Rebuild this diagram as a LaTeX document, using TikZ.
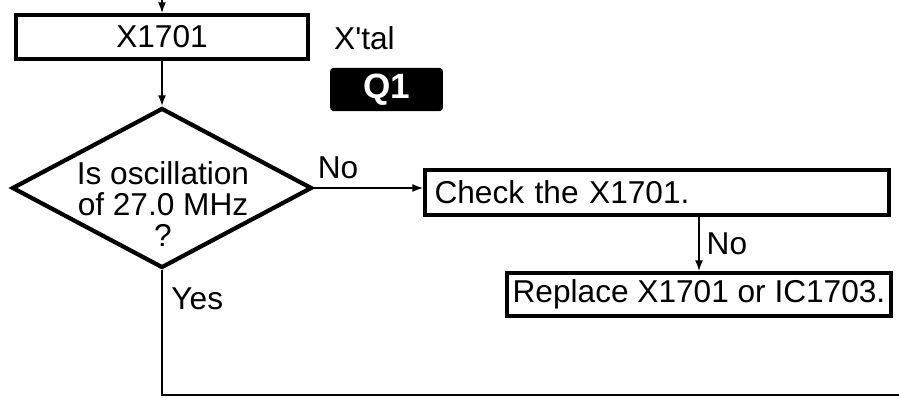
\documentclass[tikz,border=0pt]{standalone}
\usepackage{fontspec}
\setmainfont{Liberation Sans}
\usepackage{tikz}
\usetikzlibrary{arrows.meta,shapes.geometric}

\begin{document}
\begin{tikzpicture}[x=0.02cm,y=-0.02cm,>={Latex[length=6pt,width=4.5pt]},
every node/.style={font=\fontsize{18}{17.6}\selectfont},
box/.style={draw,line width=2.3pt,minimum height=0.88cm,inner sep=0pt},
decision/.style={draw,diamond,line width=2.4pt,minimum width=6cm,minimum height=3.2cm,inner sep=0pt},
line/.style={line width=0.8pt}]
\useasboundingbox (0,0) rectangle (899,398);
\coordinate (top) at (162,0);
\coordinate (end) at (899,395);
\node[box,minimum width=5.84cm] (x1701) at (162,37) {X1701};
\node[anchor=west] (xtal) at (328,38) {X\textquotesingle tal};
\node[fill=black,rounded corners=2pt,minimum width=2.26cm,minimum height=0.86cm,text=white,
 font=\bfseries\fontsize{20}{24}\selectfont] (q1) at (386.5,89.5) {Q1};
\node[decision] (osc) at (162,188) {};
\node[align=center] (osctext) at (163,204) {Is oscillation\\of 27.0 MHz\\?};
\node[box,minimum width=9.28cm,minimum height=0.9cm,text width=8.9cm,align=left] (check) at (657,192.5) {Check the X1701.};
\node[box,minimum width=7.7cm,minimum height=0.86cm] (replace) at (699,294.5) {Replace X1701 or IC1703.};
\draw[line,->](top)--(x1701);
\draw[line,->](x1701)--(osc);
\draw[line,->](osc.east)--node[pos=0.22,above,inner sep=5pt]{No}(osc.east-|check.west);
\draw[line,->](replace.north|-check.south)--node[right,inner sep=4pt]{No}(replace.north);
\draw[line](osc.south)--node[pos=0.23,right,inner sep=5pt]{Yes}(osc.south|-end)--(end);
\end{tikzpicture}
\end{document}
